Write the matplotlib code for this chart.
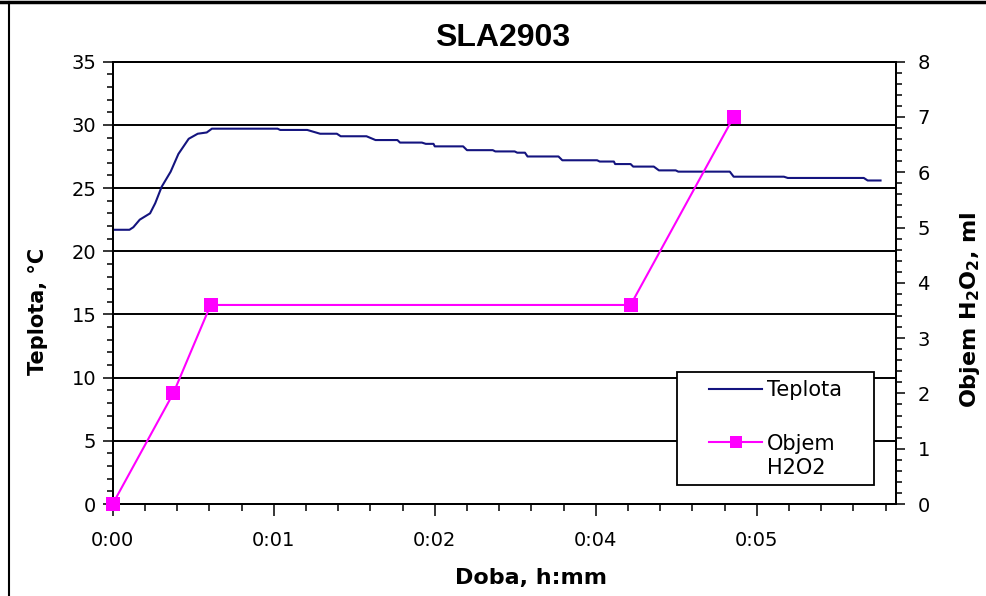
import matplotlib
matplotlib.use("Agg")
import matplotlib.pyplot as plt
from matplotlib.ticker import MultipleLocator, FixedLocator, FixedFormatter
from matplotlib.lines import Line2D
from matplotlib.patches import Rectangle

# Temperature log: elapsed time [min] and temperature [°C]
time_temp = [0.00, 0.13, 0.16, 0.21, 0.29, 0.33, 0.38, 0.45, 0.51, 0.59,
             0.66, 0.73, 0.77, 1.28, 1.30, 1.51, 1.61, 1.74, 1.77, 1.97,
             2.04, 2.21, 2.23, 2.40, 2.43, 2.49, 2.50, 2.72, 2.75, 2.95,
             2.97, 3.12, 3.14, 3.20, 3.22, 3.46, 3.49, 3.76, 3.78, 3.89,
             3.90, 4.02, 4.04, 4.20, 4.24, 4.37, 4.39, 4.79, 4.82, 5.21,
             5.24, 5.83, 5.86, 5.96]
temperature = [21.7, 21.7, 21.9, 22.5, 23.0, 23.8, 25.1, 26.3, 27.7, 28.9,
               29.3, 29.4, 29.7, 29.7, 29.6, 29.6, 29.3, 29.3, 29.1, 29.1,
               28.8, 28.8, 28.6, 28.6, 28.5, 28.5, 28.3, 28.3, 28.0, 28.0,
               27.9, 27.9, 27.8, 27.8, 27.5, 27.5, 27.2, 27.2, 27.1, 27.1,
               26.9, 26.9, 26.7, 26.7, 26.4, 26.4, 26.3, 26.3, 25.9, 25.9,
               25.8, 25.8, 25.6, 25.6]

# H2O2 dosing: elapsed time [min] and cumulative volume [ml]
time_dose = [0.00, 0.47, 0.76, 4.02, 4.82]
volume_h2o2 = [0.0, 2.0, 3.6, 3.6, 7.0]

# Time axis labels (h:mm)
x_tick_pos = [0.0, 1.25, 2.5, 3.75, 5.0]
x_tick_labels = ["0:00", "0:01", "0:02", "0:04", "0:05"]

plt.rcParams["font.family"] = ["DejaVu Sans"]
plt.rcParams["mathtext.fontset"] = "dejavusans"

W, H = 987, 596
fig = plt.figure(figsize=(W / 100, H / 100), dpi=100)
fig.patch.set_facecolor("white")

L, R, T, B = 112.7, 896.0, 61.7, 504.0
ax = fig.add_axes([L / W, 1 - B / H, (R - L) / W, (B - T) / H])
ax2 = ax.twinx()

# Temperature curve (left axis)
line_t, = ax.plot(time_temp, temperature, color="#14147f", lw=1.5,
                  label="Teplota", zorder=3)

# H2O2 volume (right axis)
line_v, = ax2.plot(time_dose, volume_h2o2, color="#ff00ff", lw=1.5,
                   marker="s", markersize=10.5, markeredgewidth=0,
                   label="Objem", clip_on=False, zorder=3)

ax.set_xlim(0, 6.08)
ax.set_ylim(0, 35)
ax2.set_ylim(0, 8)

ax.yaxis.set_major_locator(MultipleLocator(5))
ax.yaxis.set_minor_locator(MultipleLocator(1))
ax2.yaxis.set_major_locator(MultipleLocator(1))
ax2.yaxis.set_minor_locator(MultipleLocator(0.2))
ax.xaxis.set_major_locator(FixedLocator(x_tick_pos))
ax.xaxis.set_major_formatter(FixedFormatter(x_tick_labels))
ax.xaxis.set_minor_locator(MultipleLocator(0.25))

ax.yaxis.grid(True, which="major", color="black", lw=1.4)
ax.set_axisbelow(True)

for a in (ax, ax2):
    for s in a.spines.values():
        s.set_color("black")
        s.set_linewidth(1.4)

ax.tick_params(axis="y", which="major", direction="out", length=7.2, width=1.1,
               labelsize=14, pad=4.5, colors="black")
ax.tick_params(axis="y", which="minor", direction="out", length=4.3, width=1.1)
ax.tick_params(axis="x", which="major", direction="out", length=8.6, width=1.1,
               labelsize=14, pad=11, colors="black")
ax.tick_params(axis="x", which="minor", direction="out", length=5.0, width=1.1)
ax2.tick_params(axis="y", which="major", direction="out", length=6.5, width=1.1,
                labelsize=14, pad=9, colors="black")
ax2.tick_params(axis="y", which="minor", direction="out", length=4.2, width=1.1)

# Titles and axis labels
fig.text(503 / W, 1 - 38 / H, "SLA2903", ha="center", va="center",
         fontsize=23, fontweight="bold", family="Liberation Sans")
fig.text(38 / W, 1 - 311 / H, "Teplota, °C", rotation=90, ha="center",
         va="center", fontsize=15, fontweight="bold")
fig.text(970 / W, 1 - 310 / H, r"Objem H$_\mathbf{2}$O$_\mathbf{2}$, ml",
         rotation=90, ha="center", va="center", fontsize=16, fontweight="bold")
fig.text(531 / W, 1 - 578 / H, "Doba, h:mm", ha="center", va="center",
         fontsize=16, fontweight="bold")

# Legend box
ax2.add_patch(Rectangle((677 / W, 1 - 485 / H), (874 - 677) / W, (485 - 372) / H,
                        transform=fig.transFigure, facecolor="white",
                        edgecolor="black", lw=1.3, zorder=4, clip_on=False))
leg = ax2.legend([line_t, line_v], ["Teplota", "Objem"], loc="upper left",
                 bbox_to_anchor=(709 / W, 1 - 380 / H),
                 bbox_transform=fig.transFigure, frameon=False, borderpad=0,
                 borderaxespad=0, handlelength=2.55, handletextpad=0.25,
                 labelspacing=1.62, fontsize=15, markerscale=0.85)
leg.set_zorder(5)
fig.text(767 / W, 1 - 468 / H, "H2O2", ha="left", va="center", fontsize=15,
         zorder=6)

# Outer frame edges
fig.add_artist(Line2D([0, 1], [1 - 1.5 / H, 1 - 1.5 / H],
                      transform=fig.transFigure, color="black", lw=2.5))
fig.add_artist(Line2D([9 / W, 9 / W], [0, 1 - 1.5 / H],
                      transform=fig.transFigure, color="black", lw=1.5))

fig.savefig("out.png", dpi=100, facecolor="white")
